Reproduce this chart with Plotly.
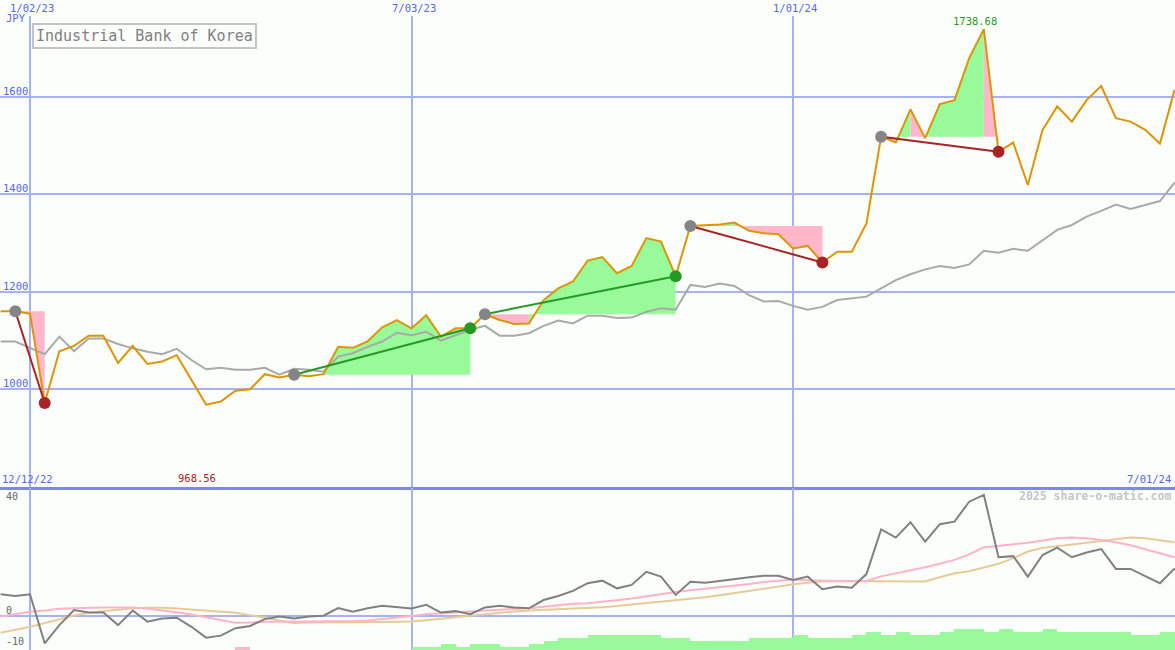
import pandas as pd
import plotly.graph_objects as go

# ---------------- data ----------------
weeks = pd.date_range("2022-12-19", periods=81, freq="7D")

price = [1160, 1160, 1155, 972, 1078, 1089, 1110, 1110, 1054, 1089,
         1052, 1057, 1070, 1020, 968.56, 975, 997, 1000, 1031, 1024,
         1030, 1027, 1031, 1087, 1085, 1098, 1127, 1142, 1125, 1152,
         1108, 1125, 1125, 1154, 1142, 1134, 1135, 1183, 1207, 1221,
         1264, 1271, 1238, 1253, 1310, 1303, 1232, 1335, 1336, 1338,
         1342, 1325, 1320, 1318, 1289, 1294, 1260, 1282, 1282, 1340,
         1518, 1506, 1574, 1515, 1585, 1593, 1679, 1738.68, 1487, 1506,
         1419, 1532, 1580, 1549, 1593, 1622, 1556, 1549, 1532, 1504,
         1614]

avg_line = [1098, 1098, 1085, 1072, 1108, 1078, 1104, 1104, 1093, 1084,
            1077, 1072, 1083, 1060, 1041, 1044, 1040, 1040, 1044, 1030,
            1042, 1040, 1036, 1067, 1074, 1087, 1098, 1116, 1111, 1118,
            1100, 1111, 1122, 1130, 1110, 1110, 1115, 1130, 1141, 1135,
            1151, 1151, 1146, 1147, 1159, 1166, 1163, 1214, 1210, 1217,
            1212, 1193, 1180, 1181, 1171, 1163, 1169, 1183, 1186, 1190,
            1207, 1224, 1236, 1246, 1253, 1249, 1256, 1284, 1280, 1288,
            1284, 1306, 1327, 1337, 1354, 1366, 1379, 1370, 1378, 1386,
            1424]

# trend segments: (start week index, end week index)
seg_start = [1, 20, 33, 47, 60]
seg_end = [3, 32, 46, 56, 68]

osc = [7.5, 6.9, 7.5, -9.7, -3.3, 2.0, 1.1, 1.1, -3.3, 1.8,
       -2.1, -1.0, -0.7, -3.9, -7.7, -7.0, -4.4, -3.6, -1.2, -0.3,
       -1.0, -0.3, 0.0, 2.7, 1.4, 2.6, 3.5, 2.9, 2.5, 3.8,
       1.1, 1.6, 0.5, 2.9, 3.5, 2.9, 2.6, 5.5, 6.9, 8.7,
       11.4, 12.3, 9.6, 10.8, 15.4, 13.7, 7.3, 11.9, 11.6, 12.2,
       12.9, 13.5, 14.0, 14.0, 12.5, 13.7, 9.3, 10.2, 9.8, 14.6,
       30.3, 27.4, 32.8, 26.0, 32.1, 33.0, 40.0, 42.4, 20.5, 20.9,
       13.7, 21.3, 23.9, 20.5, 22.2, 23.4, 16.4, 16.4, 13.9, 11.4,
       16.6]

osc_fast = [-0.3, 0.5, 1.4, 1.8, 2.4, 2.6, 2.8, 2.9, 2.9, 2.9,
            2.4, 1.9, 1.2, 0.4, -0.5, -1.5, -2.5, -2.4, -2.1, -2.1,
            -2.1, -2.1, -2.1, -2.0, -1.9, -1.7, -1.2, -0.8, -0.1, 0.5,
            0.9, 1.2, 1.5, 1.8, 2.0, 2.3, 2.6, 3.1, 3.6, 4.2,
            4.4, 4.8, 5.4, 6.0, 6.8, 7.5, 8.3, 8.9, 9.4, 9.9,
            10.4, 11.1, 11.8, 12.3, 12.7, 12.4, 12.2, 12.2, 12.2, 12.2,
            13.8, 14.8, 15.8, 17.0, 18.2, 19.6, 21.5, 24.0, 24.5, 25.0,
            25.6, 26.4, 27.2, 27.4, 27.2, 26.6, 25.8, 24.7, 23.4, 21.9,
            20.5]

osc_slow = [-6.0, -5.0, -3.9, -2.6, -1.2, 0.1, 1.0, 1.5, 2.2, 2.6,
            2.8, 2.8, 2.5, 2.1, 1.8, 1.4, 1.0, 0.2, -0.6, -1.7,
            -2.6, -2.4, -2.4, -2.4, -2.4, -2.3, -2.2, -2.1, -2.0, -1.6,
            -1.1, -0.5, 0.0, 0.6, 1.1, 1.5, 1.8, 2.0, 2.2, 2.4,
            2.7, 3.0, 3.4, 3.9, 4.4, 4.9, 5.5, 6.0, 6.5, 7.2,
            7.9, 8.6, 9.4, 10.2, 11.0, 11.6, 12.1, 12.2, 12.2, 12.2,
            12.2, 12.1, 12.0, 12.0, 13.5, 14.9, 15.6, 16.8, 18.2, 20.2,
            22.5, 23.8, 24.5, 25.0, 25.6, 26.2, 26.9, 27.4, 27.2, 26.6,
            25.8]

# weekly bar levels (positive = green, negative = pink), one per week interval
bar_level = [0, 0, 0, 0, 0, 0, 0, 0, 0, 0,
             0, 0, 0, 0, 0, 0, -1, 0, 0, 0,
             0, 0, 0, 0, 0, 0, 0, 0, 1, 1,
             2, 1, 2, 2, 1, 1, 2, 3, 4, 4,
             5, 5, 5, 5, 5, 4, 4, 3, 3, 3,
             3, 4, 4, 4, 5, 4, 4, 4, 5, 6,
             5, 6, 5, 5, 6, 7, 7, 6, 7, 6,
             6, 7, 6, 6, 6, 6, 6, 5, 5, 6]

grid_dates = ["2023-01-02", "2023-07-03", "2024-01-01"]
grid_labels = ["1/02/23", "7/03/23", "1/01/24"]
price_ticks = [1000, 1200, 1400, 1600]
osc_ticks = [40, 0, -10]
title = "Industrial Bank of Korea"

# ---------------- styles ----------------
BG = "#FCFEFC"
GRID = "#A6B2F2"
DIV = "#7B88EC"
BLUE = "#5566EE"
ORANGE = "#DD9505"
GREEN_FILL = "#98FA98"
PINK_FILL = "#FFB7C9"
RED = "#A82424"
GREEN = "#249A24"
FONT = "DejaVu Sans Mono"
W, H = 1175, 650


def py(px):
    return 1 - px / H


fig = go.Figure()

# fills between price and trend start level
gx, gy, px_, pyy = [], [], [], []
for s, e in zip(seg_start, seg_end):
    base = price[s]
    for k in range(s, e):
        xs = [weeks[k], weeks[k], weeks[k + 1], weeks[k + 1], weeks[k], None]
        ys = [base, price[k], price[k + 1], base, base, None]
        if price[k + 1] >= base:
            gx += xs; gy += ys
        else:
            px_ += xs; pyy += ys
fig.add_trace(go.Scatter(x=gx, y=gy, mode="lines", fill="toself", fillcolor=GREEN_FILL,
                         line=dict(width=0), hoverinfo="skip", xaxis="x", yaxis="y"))
fig.add_trace(go.Scatter(x=px_, y=pyy, mode="lines", fill="toself", fillcolor=PINK_FILL,
                         line=dict(width=0), hoverinfo="skip", xaxis="x", yaxis="y"))

# average line and price
fig.add_trace(go.Scatter(x=weeks, y=avg_line, mode="lines", line=dict(color="#A9A9A9", width=2),
                         xaxis="x", yaxis="y"))
fig.add_trace(go.Scatter(x=weeks, y=price, mode="lines", line=dict(color=ORANGE, width=2),
                         xaxis="x", yaxis="y"))

# trend lines and dots
for s, e in zip(seg_start, seg_end):
    col = GREEN if price[e] >= price[s] else RED
    fig.add_trace(go.Scatter(x=[weeks[s], weeks[e]], y=[price[s], price[e]], mode="lines",
                             line=dict(color=col, width=2), xaxis="x", yaxis="y"))
for s, e in zip(seg_start, seg_end):
    col = GREEN if price[e] >= price[s] else RED
    fig.add_trace(go.Scatter(x=[weeks[s]], y=[price[s]], mode="markers",
                             marker=dict(color="#858585", size=12), xaxis="x", yaxis="y"))
    fig.add_trace(go.Scatter(x=[weeks[e]], y=[price[e]], mode="markers",
                             marker=dict(color=col, size=12), xaxis="x", yaxis="y"))

# lower panel
bar_x = [weeks[i] + pd.Timedelta(days=3.5) for i in range(len(bar_level))]
fig.add_trace(go.Bar(x=bar_x, y=[abs(v) for v in bar_level],
                     marker=dict(color=[GREEN_FILL if v >= 0 else PINK_FILL for v in bar_level],
                                 line=dict(width=0)),
                     width=7 * 24 * 3600 * 1000, xaxis="x2", yaxis="y3"))
fig.add_trace(go.Scatter(x=weeks, y=osc_slow, mode="lines", line=dict(color="#E6CB98", width=2),
                         xaxis="x2", yaxis="y2"))
fig.add_trace(go.Scatter(x=weeks, y=osc_fast, mode="lines", line=dict(color="#FFB3C6", width=2),
                         xaxis="x2", yaxis="y2"))
fig.add_trace(go.Scatter(x=weeks, y=osc, mode="lines", line=dict(color="#808080", width=2),
                         xaxis="x2", yaxis="y2"))

xr = ["2022-12-18 16:30", "2024-07-01 04:30"]
fig.update_layout(
    width=W, height=H, autosize=False,
    margin=dict(l=0, r=0, t=0, b=0),
    paper_bgcolor=BG, plot_bgcolor=BG,
    showlegend=False, bargap=0,
    xaxis=dict(domain=[0, 1], anchor="y", type="date", range=xr, tickvals=grid_dates,
               showticklabels=False, ticks="", showgrid=True, gridcolor=GRID, gridwidth=2,
               zeroline=False, showline=True, linecolor=DIV, linewidth=2.5),
    yaxis=dict(domain=[py(487), py(16)], range=[799.65, 1765.5], tickvals=price_ticks,
               showticklabels=False, ticks="", showgrid=True, gridcolor=GRID, gridwidth=2,
               zeroline=False),
    xaxis2=dict(domain=[0, 1], anchor="y2", type="date", range=xr, tickvals=grid_dates,
                showticklabels=False, ticks="", showgrid=True, gridcolor=GRID, gridwidth=2,
                zeroline=False),
    yaxis2=dict(domain=[0, py(488)], range=[-12.04, 44.81], showticklabels=False, ticks="",
                showgrid=False, zeroline=True, zerolinecolor=GRID, zerolinewidth=2),
    yaxis3=dict(overlaying="y2", anchor="x2", range=[0, 54], visible=False),
)

ann = []
for d, lab in zip(grid_dates, grid_labels):
    ann.append(dict(x=d, xref="x", y=py(8), yref="paper", text=lab, showarrow=False,
                    xanchor="center", yanchor="middle", xshift=2,
                    font=dict(family=FONT, size=10.5, color=BLUE)))
ann.append(dict(x=4 / W, xref="paper", y=py(18), yref="paper", text="JPY", showarrow=False,
                xanchor="left", yanchor="middle", font=dict(family=FONT, size=10.5, color=BLUE)))
for t in price_ticks:
    ann.append(dict(x=30 / W, xref="paper", y=t, yref="y", text=str(t), showarrow=False,
                    xanchor="right", yanchor="bottom", yshift=-2,
                    font=dict(family=FONT, size=10.5, color=BLUE)))
ann.append(dict(x=32 / W, xref="paper", y=py(36), yref="paper", text=title, showarrow=False,
                xanchor="left", yanchor="middle", bordercolor="#C4C4C4", borderwidth=2,
                borderpad=2, font=dict(family=FONT, size=15, color="#808080")))
ann.append(dict(x=0, xref="paper", y=py(479), yref="paper", text="12/12/22", showarrow=False,
                xanchor="left", yanchor="middle", font=dict(family=FONT, size=10.5, color=BLUE)))
ann.append(dict(x=1173 / W, xref="paper", y=py(479), yref="paper", text="7/01/24", showarrow=False,
                xanchor="right", yanchor="middle", font=dict(family=FONT, size=10.5, color=BLUE)))
imax = price.index(max(price))
imin = price.index(min(price))
ann.append(dict(x=weeks[imax], xref="x", y=py(21), yref="paper", text=f"{max(price):.2f}",
                showarrow=False, xanchor="center", yanchor="middle", xshift=-9,
                font=dict(family=FONT, size=10.5, color=GREEN)))
ann.append(dict(x=weeks[imin], xref="x", y=py(478), yref="paper", text=f"{min(price):.2f}",
                showarrow=False, xanchor="center", yanchor="middle", xshift=-9,
                font=dict(family=FONT, size=10.5, color=RED)))
ann.append(dict(x=1173 / W, xref="paper", y=py(496), yref="paper", text="<b>2025 share-o-matic.com</b>",
                showarrow=False, xanchor="right", yanchor="middle",
                font=dict(family=FONT, size=11.5, color="#C6C6C6")))
for t, ypx in zip(osc_ticks, [496, 610, 641]):
    ann.append(dict(x=4 / W, xref="paper", y=py(ypx), yref="paper", text=str(t), showarrow=False,
                    xanchor="left", yanchor="middle", font=dict(family=FONT, size=10, color="#666666")))
fig.update_layout(annotations=ann)

fig.write_html("out.html", config={"displayModeBar": False},
               post_script="document.body.style.margin='0px';document.body.style.overflow='hidden';")
